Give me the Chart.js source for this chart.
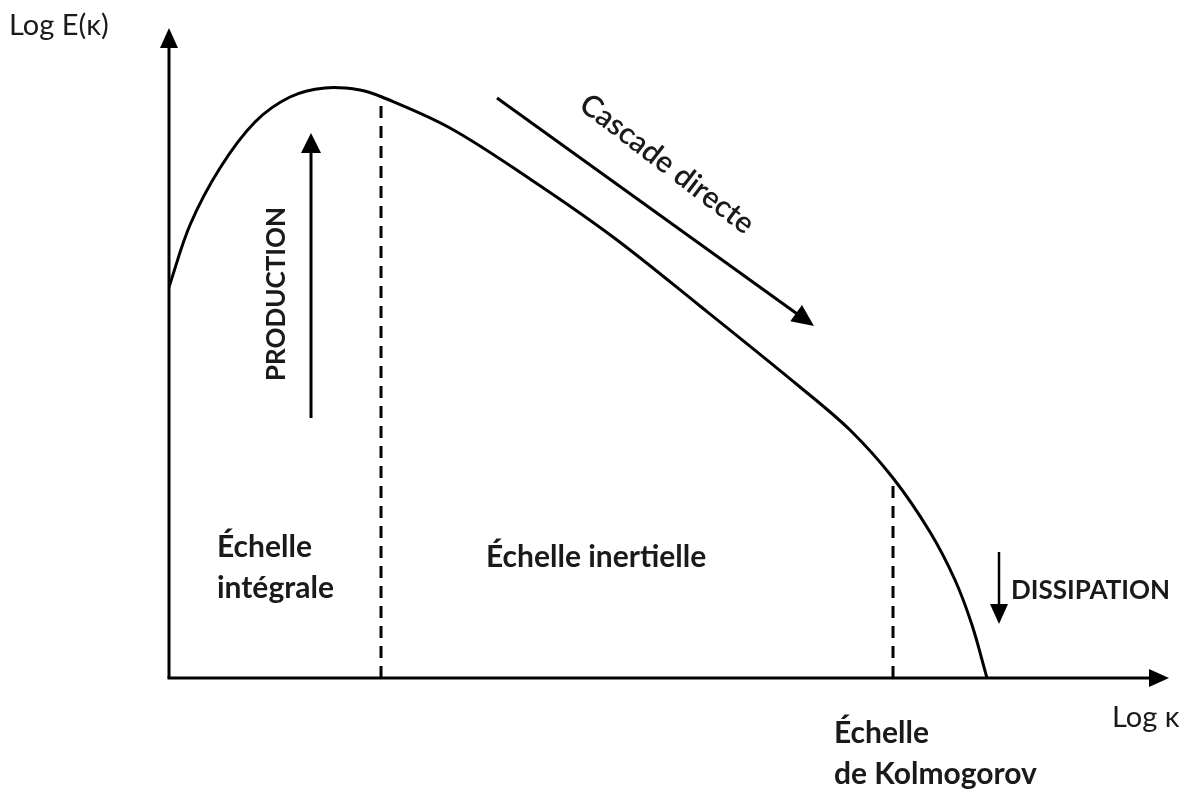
<!DOCTYPE html>
<html>
<head>
<meta charset="utf-8">
<script src="https://cdn.jsdelivr.net/npm/chart.js@4"></script>
<style>
  body { margin: 0; background: #fff; }
  #wrap { width: 1193px; height: 791px; }
</style>
</head>
<body>
<div id="wrap"><canvas id="spectre" width="1193" height="791"></canvas></div>
<script>
// spectre d'énergie schématique (unités arbitraires)
const logK = [0, 21, 51, 86, 121, 156, 191, 213, 281, 361, 444, 531, 631, 681, 724, 761, 786, 803, 818];
const logE = [391, 453, 510, 556, 581, 590, 588, 581, 550, 499, 441, 372, 291, 248, 200, 146, 98, 53, 0];

// limites des zones
const kIntegrale = 212;
const kKolmogorov = 724;
const eIntegrale = 581;
const eKolmogorov = 200;

const xTitle = "Log κ";
const yTitle = "Log E(κ)";

function arrow(ctx, x1, y1, x2, y2, head, width) {
  let a = Math.atan2(y2 - y1, x2 - x1);
  ctx.beginPath();
  ctx.moveTo(x1, y1);
  ctx.lineTo(x2 - Math.cos(a) * head * 0.8, y2 - Math.sin(a) * head * 0.8);
  ctx.stroke();
  ctx.beginPath();
  ctx.moveTo(x2, y2);
  ctx.lineTo(x2 - Math.cos(a) * head + Math.sin(a) * width / 2, y2 - Math.sin(a) * head - Math.cos(a) * width / 2);
  ctx.lineTo(x2 - Math.cos(a) * head - Math.sin(a) * width / 2, y2 - Math.sin(a) * head + Math.cos(a) * width / 2);
  ctx.closePath();
  ctx.fill();
}

const annotations = {
  id: 'annotations',
  afterDraw(chart) {
    let ctx = chart.ctx;
    let x = chart.scales.x, y = chart.scales.y;
    let area = chart.chartArea;
    let px = v => x.getPixelForValue(v);
    let py = v => y.getPixelForValue(v);
    ctx.save();
    ctx.strokeStyle = '#000';
    ctx.fillStyle = '#000';
    ctx.lineWidth = 3;
    ctx.lineCap = 'butt';

    // axes
    arrow(ctx, area.left, area.bottom, area.left, area.top, 20, 18);
    arrow(ctx, area.left - 1.5, area.bottom, area.right, area.bottom, 20, 18);

    // flèches
    arrow(ctx, px(142), py(260), px(142), py(545), 20, 20);
    arrow(ctx, px(328), py(580), px(645), py(352), 22, 20);
    ctx.lineWidth = 2.5;
    arrow(ctx, px(830), py(126), px(830), py(54), 20, 18);

    // textes
    ctx.fillStyle = '#1a1a1a';
    ctx.textBaseline = 'middle';
    ctx.textAlign = 'left';
    ctx.font = '29px Lato';
    ctx.fillText(yTitle, 9, 26);
    ctx.fillText(xTitle, 1112, 718);

    ctx.font = 'bold 30px Lato';
    ctx.fillText('Échelle', 217, 547);
    ctx.fillText('intégrale', 217, 588);
    ctx.fillText('Échelle inertielle', 486, 557);
    ctx.fillText('Échelle', 834, 733);
    ctx.fillText('de Kolmogorov', 834, 774);
    ctx.font = 'bold 26px Lato';
    ctx.fillText('DISSIPATION', 1011, 591);

    ctx.save();
    ctx.translate(277, 294);
    ctx.rotate(-Math.PI / 2);
    ctx.textAlign = 'center';
    ctx.font = 'bold 26px Lato';
    ctx.fillText('PRODUCTION', 0, 0);
    ctx.restore();

    ctx.save();
    ctx.translate(667, 164);
    ctx.rotate(Math.atan2(127, 167));
    ctx.textAlign = 'center';
    ctx.font = '600 30px Lato';
    ctx.fillText('Cascade directe', 0, 0);
    ctx.restore();

    ctx.restore();
  }
};

let ctx = document.getElementById('spectre').getContext('2d');
let chart = new Chart(ctx, {
  type: 'line',
  data: {
    datasets: [{
      data: logK.map((k, i) => ({ x: k, y: logE[i] })),
      borderColor: '#000',
      borderWidth: 3,
      pointRadius: 0,
      tension: 0.35,
      fill: false
    }, {
      data: [{ x: kIntegrale, y: 0 }, { x: kIntegrale, y: eIntegrale }],
      borderColor: '#000',
      borderWidth: 3,
      borderDash: [12, 8],
      pointRadius: 0
    }, {
      data: [{ x: kKolmogorov, y: 0 }, { x: kKolmogorov, y: eKolmogorov }],
      borderColor: '#000',
      borderWidth: 3,
      borderDash: [12, 8],
      pointRadius: 0
    }]
  },
  options: {
    responsive: false,
    animation: false,
    layout: { padding: { left: 169, right: 24, top: 28, bottom: 113 } },
    plugins: { legend: { display: false }, tooltip: { enabled: false } },
    scales: {
      x: { type: 'linear', min: 0, max: 1000, display: false },
      y: { min: 0, max: 650, display: false }
    }
  },
  plugins: [annotations]
});
</script>
</body>
</html>
